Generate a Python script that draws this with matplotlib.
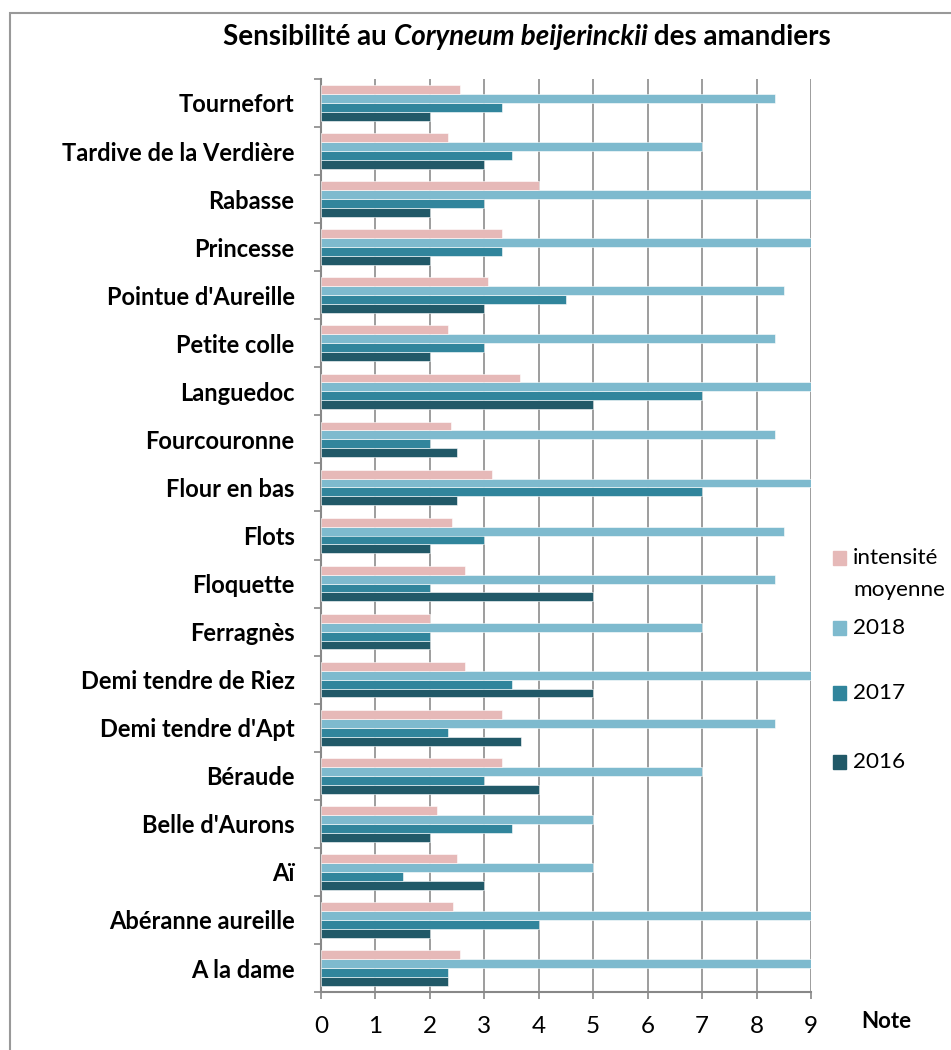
#!/usr/bin/env python3
# -*- coding: utf-8 -*-
"""Sensibilité au Coryneum beijerinckii des amandiers - barres horizontales"""

import matplotlib
matplotlib.use('Agg')
import matplotlib.pyplot as plt
import numpy as np
from matplotlib.patches import Rectangle

plt.rcParams['font.family'] = ['Lato', 'DejaVu Sans']

# variétés, de bas en haut
varietes = ['A la dame', 'Abéranne aureille', 'Aï', "Belle d'Aurons", 'Béraude',
            "Demi tendre d'Apt", 'Demi tendre de Riez', 'Ferragnès', 'Floquette',
            'Flots', 'Flour en bas', 'Fourcouronne', 'Languedoc', 'Petite colle',
            "Pointue d'Aureille", 'Princesse', 'Rabasse', 'Tardive de la Verdière',
            'Tournefort']

note_2016 = [2.33, 2, 3, 2, 4, 3.67, 5, 2, 5, 2, 2.5, 2.5, 5, 2, 3, 2, 2, 3, 2]
note_2017 = [2.33, 4, 1.5, 3.5, 3, 2.33, 3.5, 2, 2, 3, 7, 2, 7, 3, 4.5, 3.33, 3, 3.5, 3.33]
note_2018 = [9, 9, 5, 5, 7, 8.33, 9, 7, 8.33, 8.5, 9, 8.33, 9, 8.33, 8.5, 9, 9, 7, 8.33]
intensite = [2.55, 2.43, 2.5, 2.14, 3.33, 3.33, 2.65, 2, 2.65, 2.41, 3.14, 2.39, 3.66,
             2.33, 3.06, 3.33, 4, 2.33, 2.55]

series = [
    ('2016', note_2016, '#215968'),
    ('2017', note_2017, '#31859C'),
    ('2018', note_2018, '#7EBACE'),
    ('intensité\nmoyenne', intensite, '#E6B9B8'),
]

fig = plt.figure(figsize=(9.51, 10.5), dpi=100)
ax = fig.add_axes([0.3375, 0.0552, 0.5153, 0.8696])

y = np.arange(len(varietes))
h = 0.185
for i, (nom, vals, col) in enumerate(series):
    ax.barh(y + (i - 1.5) * h, vals, height=h, color=col, edgecolor='white',
            linewidth=0.4, zorder=3)

ax.set_xlim(0, 9)
ax.set_ylim(-0.5, len(varietes) - 0.5)
ax.set_xticks(range(10))
ax.set_yticks(y)
ax.set_yticklabels(varietes, fontsize=17, fontweight='bold')
ax.set_yticks(np.arange(-0.5, len(varietes), 1), minor=True)
ax.tick_params(axis='y', which='major', length=0, pad=19)
ax.tick_params(axis='y', which='minor', length=5, width=1.2, color='#888888', direction='out')
ax.tick_params(axis='x', length=5, width=1.2, color='#888888', labelsize=17.5, pad=12)
ax.grid(axis='x', color='#8c8c8c', linewidth=1.2, zorder=0)
for s in ['top', 'right']:
    ax.spines[s].set_visible(False)
for s in ['left', 'bottom']:
    ax.spines[s].set_color('#888888')
    ax.spines[s].set_linewidth(1.5)

# titre en trois morceaux (partie italique au milieu)
fig.canvas.draw()
rend = fig.canvas.get_renderer()
pieces = [('Sensibilité au ', 'normal'), ('Coryneum beijerinckii', 'italic'),
          (' des amandiers', 'normal')]
txts = [fig.text(0, 0, t, fontsize=20, fontweight='bold', style=st) for t, st in pieces]
widths = [t.get_window_extent(rend).width for t in txts]
x0 = 527 - sum(widths) / 2
yt = 1 - 37 / 1050
for t, w in zip(txts, widths):
    t.set_position((x0 / 951, yt))
    t.set_va('center')
    x0 += w

fig.text(886 / 951, 1 - 1022 / 1050, 'Note', fontsize=16, fontweight='bold',
         ha='center', va='center')

# légende à droite
leg_y = [558, 628, 693, 762]
for (nom, vals, col), yy in zip(series[::-1], leg_y):
    fig.patches.append(Rectangle((833 / 951, 1 - (yy + 7) / 1050), 13 / 951, 14 / 1050,
                                 transform=fig.transFigure, color=col))
    lab = nom.split('\n')
    for k, l in enumerate(lab):
        fig.text(853 / 951, 1 - (yy + 32 * k) / 1050, l, fontsize=16.2, va='center')

# cadre gris
fig.patches.append(Rectangle((10 / 951, -0.1), 1.2, 1.1 - 13 / 1050,
                             transform=fig.transFigure, fill=False,
                             edgecolor='#999999', linewidth=1.5))

fig.savefig('out.png', dpi=100)
